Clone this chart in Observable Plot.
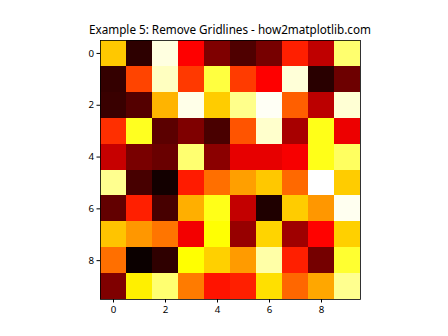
<!DOCTYPE html>
<html>
<head>
<meta charset="utf-8">
<script src="https://cdn.jsdelivr.net/npm/d3@7"></script>
<script src="https://cdn.jsdelivr.net/npm/@observablehq/plot@0.6"></script>
<style>
  body { margin: 0; background: #fff; }
  #wrap { position: relative; width: 448px; height: 336px; }
  #title { position: absolute; left: 0; width: 460px; top: 22px; text-align: center; z-index: 2;
           font-family: "Noto Sans", sans-serif; font-size: 11.7px; color: #000; line-height: 14px; }
  svg { position: absolute; left: 0; top: 0; z-index: 1; }
</style>
</head>
<body>
<div id="wrap"><div id="title">Example 5: Remove Gridlines - how2matplotlib.com</div></div>
<script>
const title = "Example 5: Remove Gridlines - how2matplotlib.com";
const rowIdx = [0,1,2,3,4,5,6,7,8,9];
const colIdx = [0,1,2,3,4,5,6,7,8,9];
const tickValues = [0,2,4,6,8];
const row0 = [0.664,0.053,0.969,0.365,0.175,0.104,0.163,0.413,0.271,0.856];
const row1 = [0.063,0.468,0.937,0.452,0.810,0.455,0.365,0.961,0.048,0.148];
const row2 = [0.071,0.111,0.634,0.977,0.670,0.885,0.990,0.508,0.265,0.957];
const row3 = [0.437,0.778,0.122,0.175,0.095,0.492,0.949,0.235,0.770,0.340];
const row4 = [0.283,0.166,0.142,0.858,0.193,0.331,0.331,0.355,0.770,0.842];
const row5 = [0.889,0.092,0.014,0.407,0.532,0.604,0.664,0.523,1.000,0.670];
const row6 = [0.133,0.413,0.092,0.628,0.770,0.277,0.032,0.670,0.592,0.985];
const row7 = [0.658,0.592,0.541,0.349,0.750,0.211,0.682,0.223,0.370,0.676];
const row8 = [0.532,0.002,0.056,0.748,0.676,0.598,0.913,0.413,0.160,0.794];
const row9 = [0.175,0.724,0.858,0.550,0.395,0.413,0.700,0.520,0.616,0.889];
const rows = [row0,row1,row2,row3,row4,row5,row6,row7,row8,row9];

const cells = [];
rowIdx.forEach(i => colIdx.forEach(j => cells.push({row: i, col: j, v: rows[i][j]})));

// matplotlib "hot" colormap
function hot(t) {
  t = Math.max(0, Math.min(1, t));
  const r = t < 0.365079 ? 0.0416 + (1 - 0.0416) * t / 0.365079 : 1;
  const g = t < 0.365079 ? 0 : t < 0.746032 ? (t - 0.365079) / (0.746032 - 0.365079) : 1;
  const b = t < 0.746032 ? 0 : (t - 0.746032) / (1 - 0.746032);
  return `rgb(${Math.round(r*255)},${Math.round(g*255)},${Math.round(b*255)})`;
}
const vmin = d3.min(cells, d => d.v), vmax = d3.max(cells, d => d.v);

const chart = Plot.plot({
  width: 448, height: 336,
  marginLeft: 100, marginRight: 88, marginTop: 40, marginBottom: 37,
  style: {fontFamily: "Noto Sans, sans-serif", fontSize: "9.7px", color: "#000", background: "transparent"},
  x: {domain: [-0.5, 9.5], ticks: tickValues, tickSize: 3.5, tickPadding: 3, tickFormat: d => String(d), label: null},
  y: {domain: [9.5, -0.5], ticks: tickValues, tickSize: 3.5, tickPadding: 3, tickFormat: d => String(d), label: null},
  color: {type: "linear", domain: [vmin, vmax], interpolate: () => hot},
  marks: [
    Plot.rect(cells, {x1: d => d.col - 0.5, x2: d => d.col + 0.5, y1: d => d.row - 0.5, y2: d => d.row + 0.5, fill: "v", shapeRendering: "crispEdges"}),
    Plot.frame({stroke: "#000", strokeWidth: 0.8}),
    Plot.axisX({ticks: tickValues, tickSize: 3.5, tickPadding: 3, tickFormat: d => String(d), label: null, fill: "#000"}),
    Plot.axisY({ticks: tickValues, tickSize: 3.5, tickPadding: 3, tickFormat: d => String(d), label: null, fill: "#000"})
  ]
});
document.getElementById("wrap").appendChild(chart);
</script>
</body>
</html>
